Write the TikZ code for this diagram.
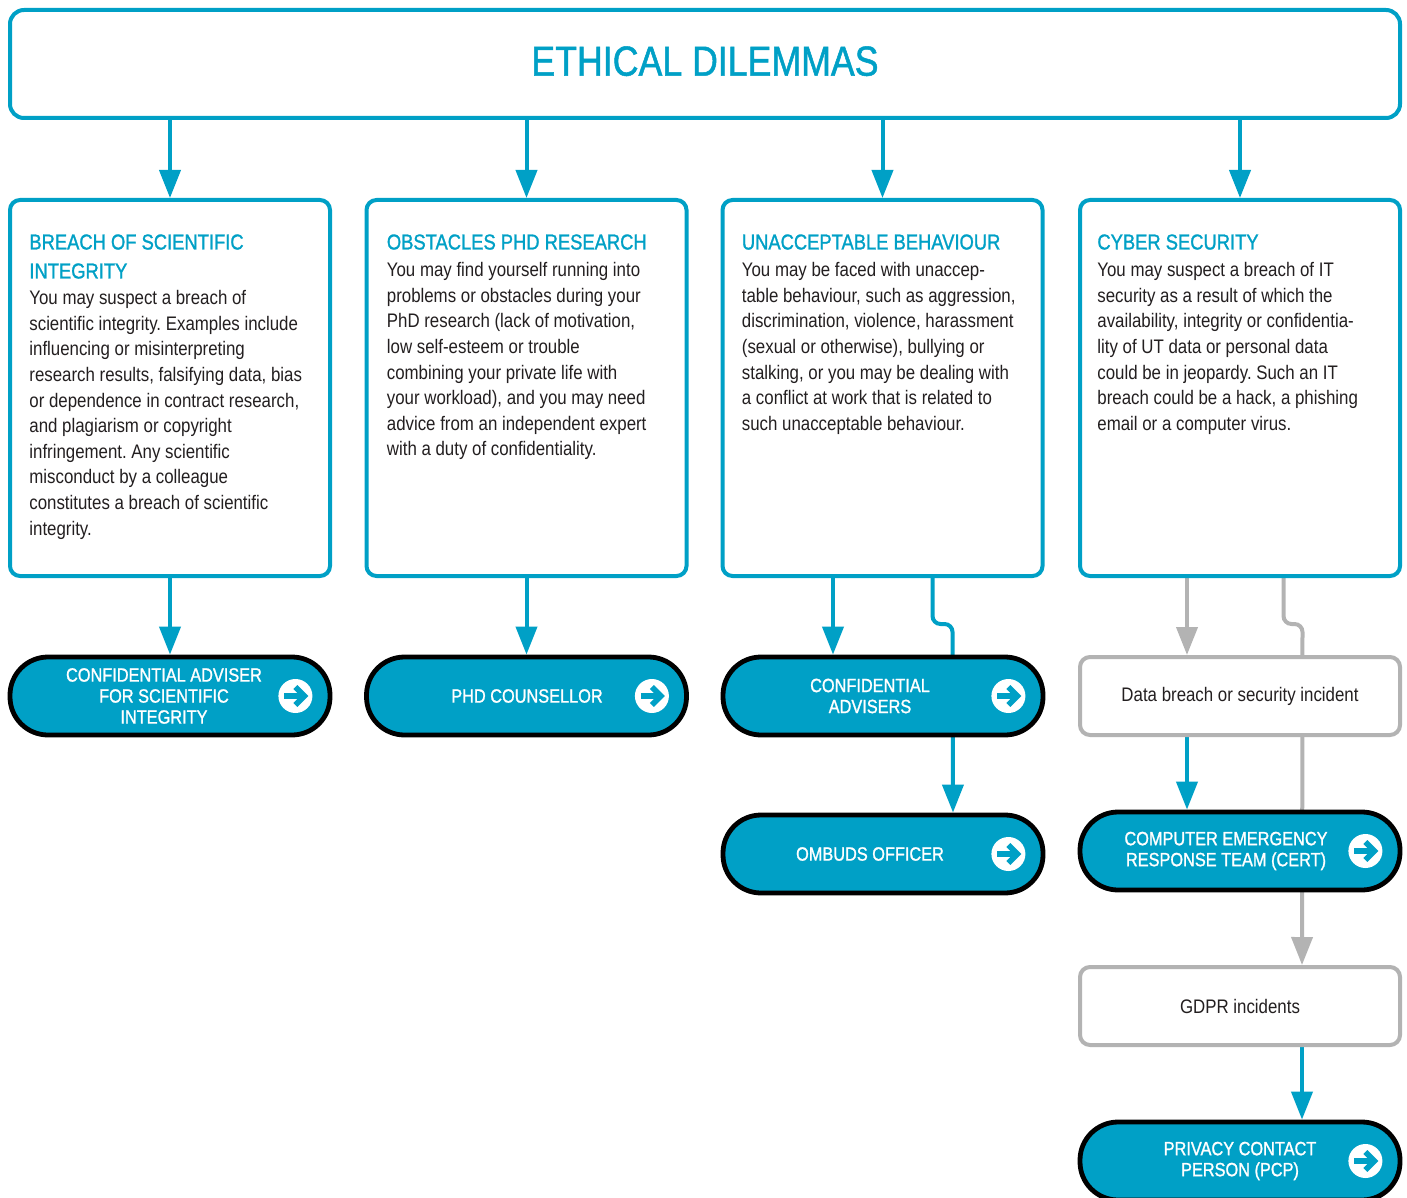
\documentclass[tikz,border=0pt]{standalone}
\usepackage{xcolor}
\usepackage{fontspec}
\setmainfont[FakeStretch=0.86]{Liberation Sans}
\newfontfamily\medfont[FakeStretch=0.85,FakeBold=1.2]{Liberation Sans}
\usepackage{tikz}
\usetikzlibrary{arrows.meta,backgrounds}
\frenchspacing

\definecolor{utblue}{HTML}{00A0C6}
\definecolor{utgray}{HTML}{B3B3B3}
\definecolor{ink}{HTML}{231F20}

\begin{document}
\begin{tikzpicture}[x=0.5pt,y=-0.5pt]
        \tikzset{titlebox/.style={rectangle,draw=utblue,line width=2pt,rounded corners=7pt,fill=white,minimum width=695pt,minimum height=54pt,text depth=3pt,text=utblue,font=\medfont\fontsize{21}{24}\selectfont}};
        \tikzset{catbox/.style={rectangle,draw=utblue,line width=2pt,rounded corners=5pt,fill=white,minimum width=160pt,minimum height=188pt}};
        \tikzset{cathead/.style={anchor=north west,inner sep=0pt,align=left,text=utblue,font=\medfont\fontsize{10.8}{14.5}\selectfont}};
        \tikzset{catbody/.style={anchor=north west,inner sep=0pt,align=left,text=ink,font=\fontsize{9.8}{12.8}\selectfont}};
        \tikzset{pill/.style={rectangle,draw=black,line width=2.4pt,rounded corners=19pt,fill=utblue,minimum width=160pt,minimum height=39pt}};
        \tikzset{pilltext/.style={inner sep=0pt,align=center,text=white,font=\medfont\fontsize{9.6}{10.5}\selectfont}};
        \tikzset{greybox/.style={rectangle,draw=utgray,line width=2pt,rounded corners=5pt,fill=white,minimum width=160pt,minimum height=39pt,text=ink,font=\fontsize{9.8}{12}\selectfont}};
        \tikzset{goicon/.style={circle,fill=white,minimum size=17pt,inner sep=0pt,
            path picture={
                \draw[utblue,line width=2.8pt] ([xshift=-5.5pt]path picture bounding box.center) -- ([xshift=4pt]path picture bounding box.center);
                \draw[utblue,line width=2.8pt] ([shift={(0pt,4.5pt)}]path picture bounding box.center) -- ([xshift=4.5pt]path picture bounding box.center) -- ([shift={(0pt,-4.5pt)}]path picture bounding box.center);
            }}};
        \tikzset{flow/.style={draw=utblue,line width=2pt,-{Triangle[length=14pt,width=10.5pt]}}};
        \tikzset{grayflow/.style={draw=utgray,line width=2pt,-{Triangle[length=14pt,width=10.5pt]}}};

        \useasboundingbox (0,0) rectangle (1407,1198);

        % header
        \node [titlebox] (dilemmas) at (705,64) {ETHICAL DILEMMAS};

        % the four dilemmas
        \node [catbox] (integrity) at (170,388) {};
        \node [catbox] (obstacles) at (526.5,388) {};
        \node [catbox] (behaviour) at (882.5,388) {};
        \node [catbox] (cyber) at (1240,388) {};

        \node [cathead] (integrity-h) at ([shift={(21,36)}]integrity.north west) {BREACH OF SCIENTIFIC\\INTEGRITY};
        \node [catbody] (integrity-b) at ([shift={(21,92)}]integrity.north west) {You may suspect a breach of\\scientific integrity. Examples include\\influencing or misinterpreting\\research results, falsifying data, bias\\or dependence in contract research,\\and plagiarism or copyright\\infringement. Any scientific\\misconduct by a colleague\\constitutes a breach of scientific\\integrity.};

        \node [cathead] (obstacles-h) at ([shift={(22,36)}]obstacles.north west) {OBSTACLES PHD RESEARCH};
        \node [catbody] (obstacles-b) at ([shift={(22,64)}]obstacles.north west) {You may find yourself running into\\problems or obstacles during your\\PhD research (lack of motivation,\\low self-esteem or trouble\\combining your private life with\\your workload), and you may need\\advice from an independent expert\\with a duty of confidentiality.};

        \node [cathead] (behaviour-h) at ([shift={(21,36)}]behaviour.north west) {UNACCEPTABLE BEHAVIOUR};
        \node [catbody] (behaviour-b) at ([shift={(21,64)}]behaviour.north west) {You may be faced with unaccep-\\table behaviour, such as aggression,\\discrimination, violence, harassment\\(sexual or otherwise), bullying or\\stalking, or you may be dealing with\\a conflict at work that is related to\\such unacceptable behaviour.};

        \node [cathead] (cyber-h) at ([shift={(19,36)}]cyber.north west) {CYBER SECURITY};
        \node [catbody] (cyber-b) at ([shift={(19,64)}]cyber.north west) {You may suspect a breach of IT\\security as a result of which the\\availability, integrity or confidentia-\\lity of UT data or personal data\\could be in jeopardy. Such an IT\\breach could be a hack, a phishing\\email or a computer virus.};

        % where to go
        \node [pill] (adviser) at (170,696) {};
        \node [pilltext] (adviser-t) at (164,696) {CONFIDENTIAL ADVISER\\FOR SCIENTIFIC\\INTEGRITY};
        \node [goicon] (adviser-go) at ([xshift=-18.5pt]adviser.east) {};

        \node [pill] (counsellor) at (526.5,696) {};
        \node [pilltext] (counsellor-t) at (527,696) {PHD COUNSELLOR};
        \node [goicon] (counsellor-go) at ([xshift=-18.5pt]counsellor.east) {};

        \node [pill] (advisers) at (883,696) {};
        \node [pilltext] (advisers-t) at (870,696) {CONFIDENTIAL\\ADVISERS};
        \node [goicon] (advisers-go) at ([xshift=-18.5pt]advisers.east) {};

        \node [pill] (ombuds) at (883,854) {};
        \node [pilltext] (ombuds-t) at (870,854) {OMBUDS OFFICER};
        \node [goicon] (ombuds-go) at ([xshift=-18.5pt]ombuds.east) {};

        \node [greybox] (incident) at (1240,696) {Data breach or security incident};

        \node [pill] (cert) at (1240,851) {};
        \node [pilltext] (cert-t) at (1226,851) {COMPUTER EMERGENCY\\RESPONSE TEAM (CERT)};
        \node [goicon] (cert-go) at ([xshift=-18.5pt]cert.east) {};

        \node [greybox] (gdpr) at (1240,1006) {GDPR incidents};

        \node [pill] (pcp) at (1240,1161) {};
        \node [pilltext] (pcp-t) at (1240,1161) {PRIVACY CONTACT\\PERSON (PCP)};
        \node [goicon] (pcp-go) at ([xshift=-18.5pt]pcp.east) {};

        % connectors
        \begin{scope}[on background layer]
            \draw [flow] (integrity.north |- dilemmas.south) -- (integrity.north);
            \draw [flow] (obstacles.north |- dilemmas.south) -- (obstacles.north);
            \draw [flow] (behaviour.north |- dilemmas.south) -- (behaviour.north);
            \draw [flow] (cyber.north |- dilemmas.south) -- (cyber.north);

            \draw [flow] (integrity.south) -- (adviser.north);
            \draw [flow] (obstacles.south) -- (counsellor.north);
            \draw [flow] ([xshift=-24.75pt]behaviour.south) -- ([xshift=-25pt]advisers.north);
            \draw [flow,rounded corners=4pt] ([xshift=25pt]behaviour.south) -- ++(0,46) -- ++(20,0) -- ([xshift=35pt]ombuds.north);

            \draw [grayflow] ([xshift=-26.5pt]cyber.south) -- ([xshift=-26.5pt]incident.north);
            \draw [grayflow,rounded corners=4pt] ([xshift=21.75pt]cyber.south) -- ++(0,46) -- ++(19,0) -- ([xshift=31pt]gdpr.north);
            \draw [flow] ([xshift=-26.5pt]incident.south) -- ([xshift=-26.5pt]cert.north);
            \draw [flow] ([xshift=31pt]gdpr.south) -- ([xshift=31pt]pcp.north);
        \end{scope}
    \end{tikzpicture}
\end{document}
